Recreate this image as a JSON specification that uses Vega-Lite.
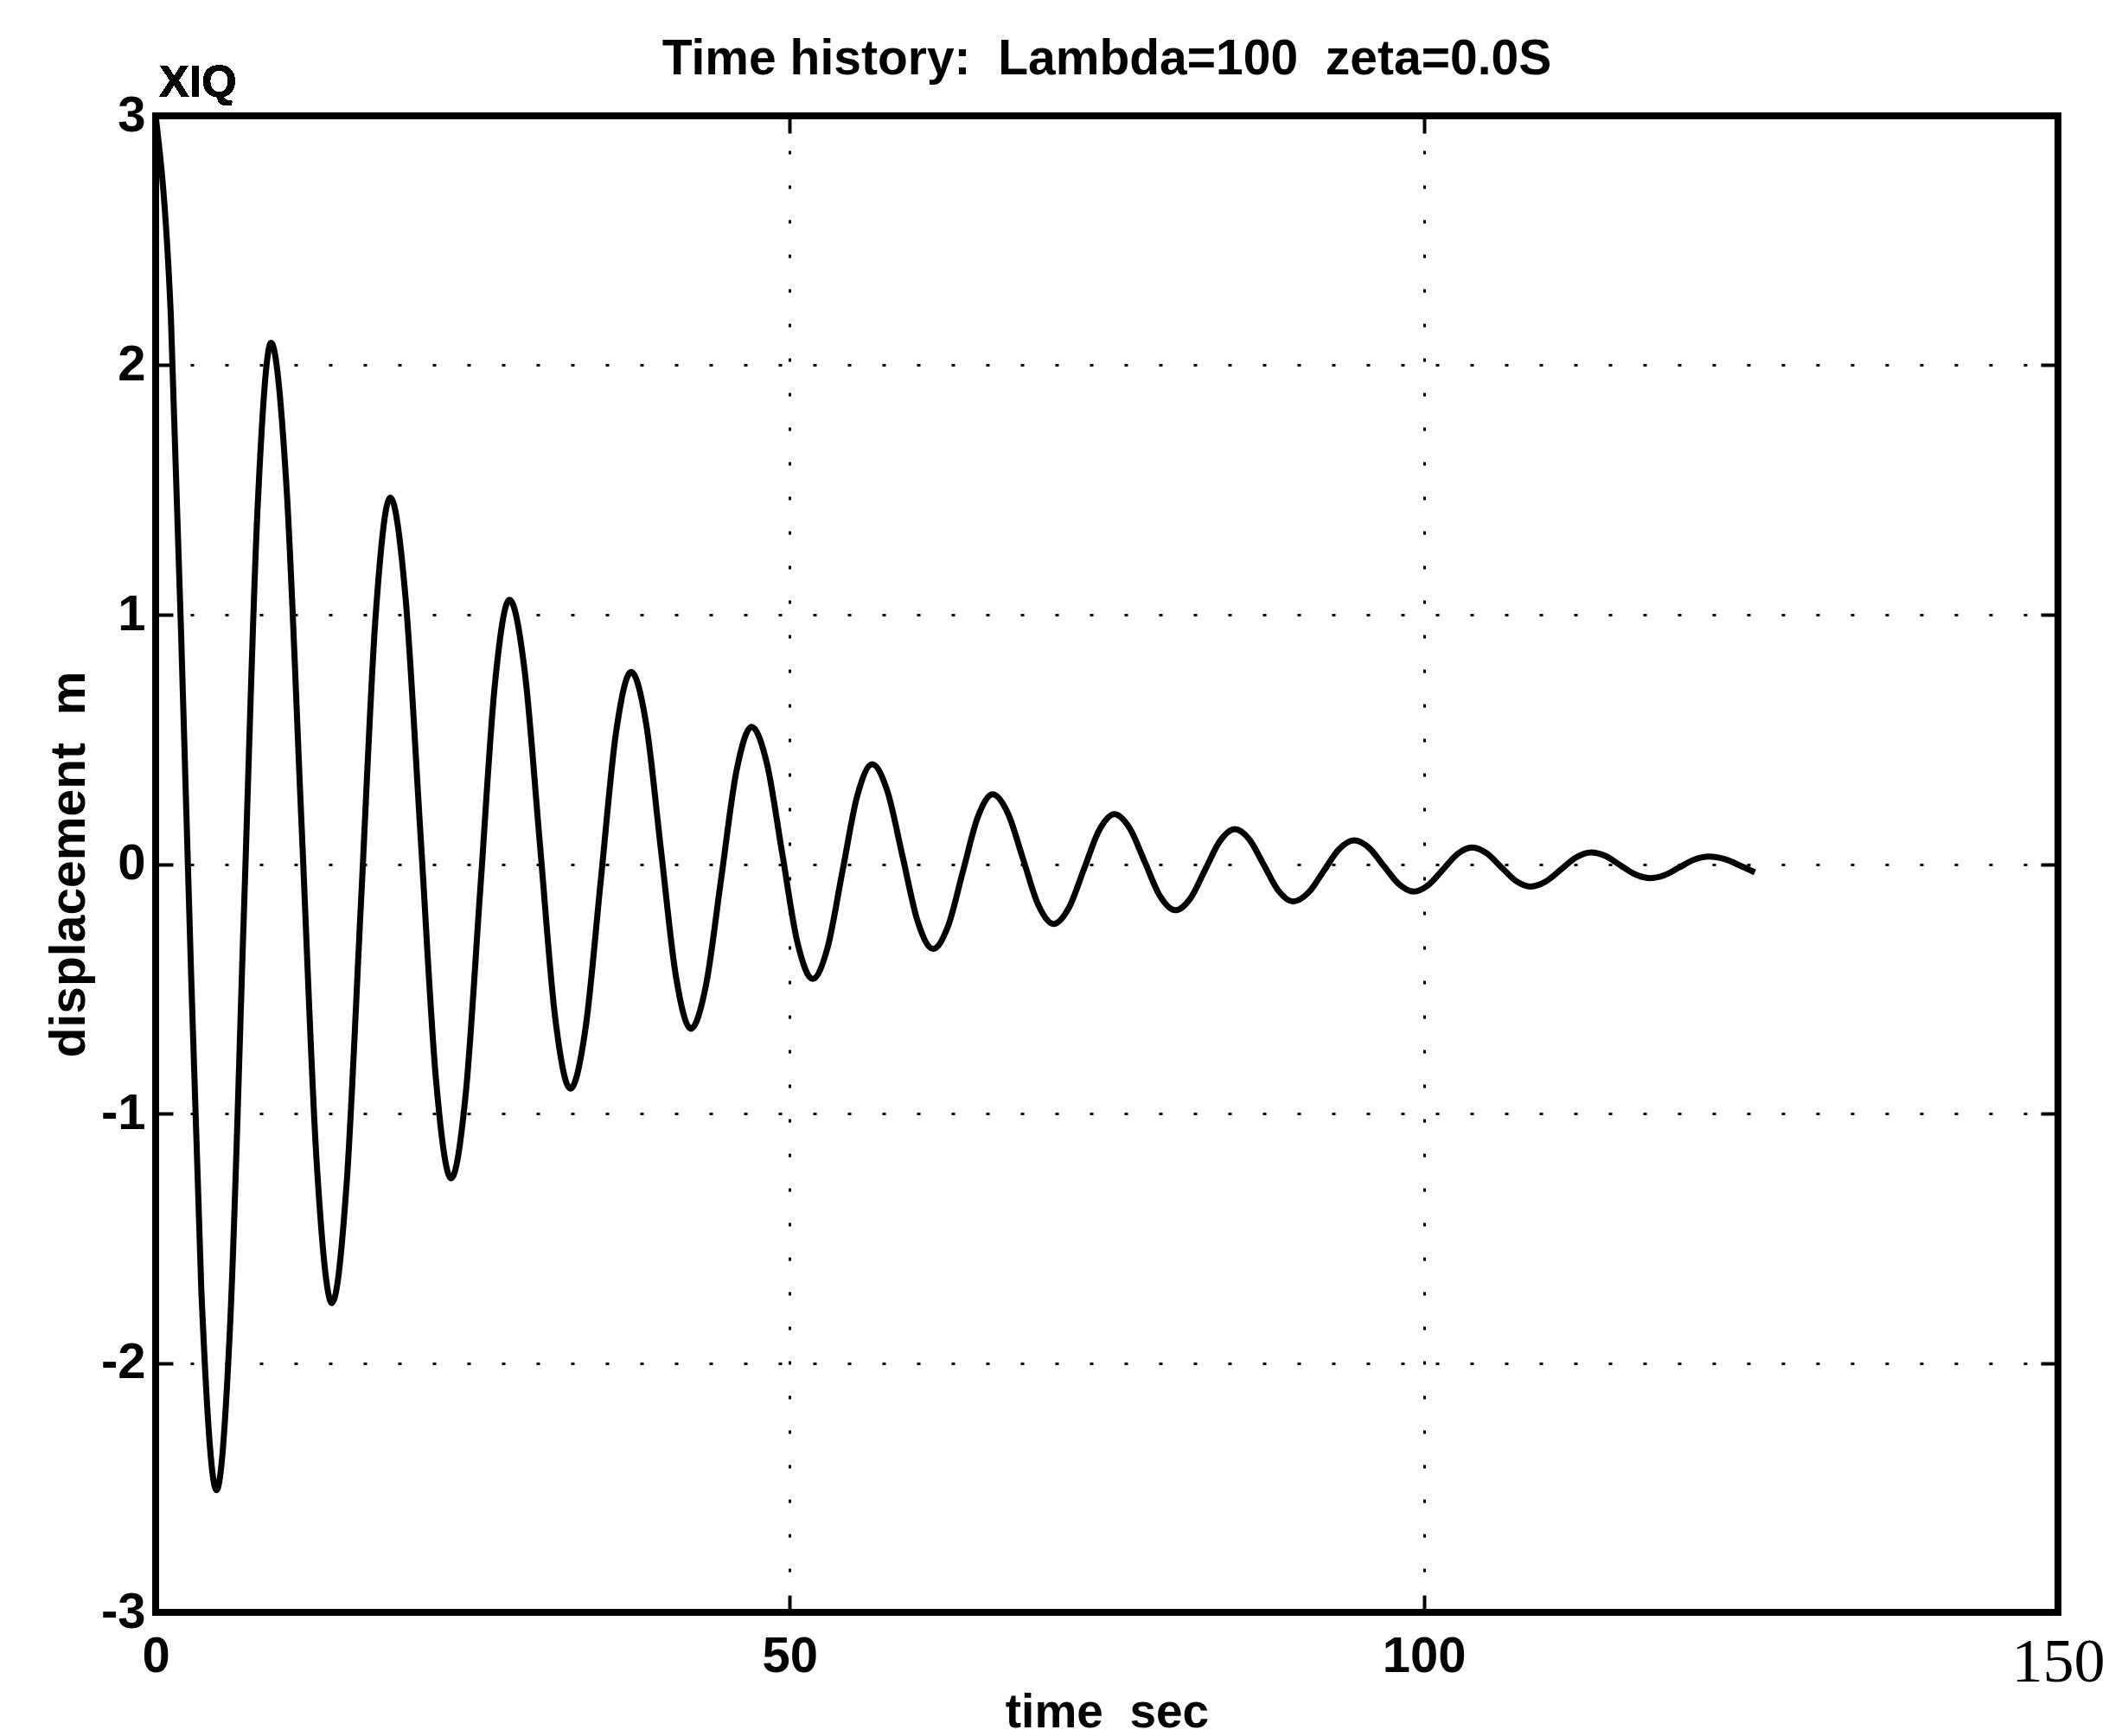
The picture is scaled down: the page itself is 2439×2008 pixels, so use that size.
{
  "$schema": "https://vega.github.io/schema/vega-lite/v6.json",
  "autosize": "none",
  "width": 2200,
  "height": 1731,
  "padding": {"left": 180, "top": 134, "right": 59, "bottom": 143},
  "background": "white",
  "title": {
    "text": "Time history:\u00a0 Lambda=100\u00a0 zeta=0.0S",
    "font": "Liberation Sans",
    "fontSize": 57,
    "fontWeight": "bold",
    "color": "black",
    "anchor": "middle",
    "baseline": "alphabetic",
    "offset": -73
  },
  "config": {
    "view": {"stroke": "black", "strokeWidth": 8},
    "axis": {
      "labelFont": "Liberation Sans",
      "labelFontWeight": "bold",
      "labelColor": "black",
      "titleFont": "Liberation Sans",
      "titleFontWeight": "bold",
      "titleColor": "black",
      "domain": false,
      "tickColor": "black",
      "tickWidth": 4,
      "gridColor": "black",
      "gridWidth": 3,
      "gridDash": [4, 36],
      "gridOpacity": 1
    }
  },
  "data": {
    "values": [
      {"t": 0, "v": 3.0}, {"t": 1.2, "v": 2.196}, {"t": 2.4, "v": 0.245}, {"t": 3.6, "v": -1.706}, {"t": 4.8, "v": -2.51},
      {"t": 5.88, "v": -1.839}, {"t": 6.95, "v": -0.21}, {"t": 8.03, "v": 1.419}, {"t": 9.1, "v": 2.09},
      {"t": 10.3, "v": 1.528}, {"t": 11.5, "v": 0.165}, {"t": 12.7, "v": -1.198}, {"t": 13.9, "v": -1.76},
      {"t": 15.05, "v": -1.288}, {"t": 16.2, "v": -0.145}, {"t": 17.35, "v": 0.998}, {"t": 18.5, "v": 1.47},
      {"t": 19.7, "v": 1.071}, {"t": 20.9, "v": 0.105}, {"t": 22.1, "v": -0.861}, {"t": 23.3, "v": -1.26},
      {"t": 24.45, "v": -0.921}, {"t": 25.6, "v": -0.1}, {"t": 26.75, "v": 0.721}, {"t": 27.9, "v": 1.06},
      {"t": 29.1, "v": 0.774}, {"t": 30.3, "v": 0.08}, {"t": 31.5, "v": -0.614}, {"t": 32.7, "v": -0.9},
      {"t": 33.9, "v": -0.657}, {"t": 35.1, "v": -0.065}, {"t": 36.3, "v": 0.527}, {"t": 37.5, "v": 0.77},
      {"t": 38.68, "v": 0.562}, {"t": 39.85, "v": 0.055}, {"t": 41.03, "v": -0.452}, {"t": 42.2, "v": -0.66},
      {"t": 43.4, "v": -0.484}, {"t": 44.6, "v": -0.055}, {"t": 45.8, "v": 0.374}, {"t": 47.0, "v": 0.55},
      {"t": 48.2, "v": 0.403}, {"t": 49.4, "v": 0.045}, {"t": 50.6, "v": -0.313}, {"t": 51.8, "v": -0.46},
      {"t": 52.98, "v": -0.335}, {"t": 54.15, "v": -0.03}, {"t": 55.33, "v": 0.275}, {"t": 56.5, "v": 0.4},
      {"t": 57.7, "v": 0.292}, {"t": 58.9, "v": 0.03}, {"t": 60.1, "v": -0.232}, {"t": 61.3, "v": -0.34},
      {"t": 62.48, "v": -0.249}, {"t": 63.65, "v": -0.03}, {"t": 64.83, "v": 0.189}, {"t": 66.0, "v": 0.28},
      {"t": 67.2, "v": 0.204}, {"t": 68.4, "v": 0.02}, {"t": 69.6, "v": -0.164}, {"t": 70.8, "v": -0.24},
      {"t": 72.0, "v": -0.176}, {"t": 73.2, "v": -0.02}, {"t": 74.4, "v": 0.136}, {"t": 75.6, "v": 0.2},
      {"t": 76.8, "v": 0.144}, {"t": 78.0, "v": 0.008}, {"t": 79.2, "v": -0.129}, {"t": 80.4, "v": -0.185},
      {"t": 81.58, "v": -0.138}, {"t": 82.75, "v": -0.023}, {"t": 83.93, "v": 0.093}, {"t": 85.1, "v": 0.14},
      {"t": 86.25, "v": 0.098}, {"t": 87.4, "v": -0.005}, {"t": 88.55, "v": -0.108}, {"t": 89.7, "v": -0.15},
      {"t": 90.9, "v": -0.114}, {"t": 92.1, "v": -0.028}, {"t": 93.3, "v": 0.059}, {"t": 94.5, "v": 0.095},
      {"t": 95.68, "v": 0.065}, {"t": 96.85, "v": -0.008}, {"t": 98.03, "v": -0.08}, {"t": 99.2, "v": -0.11},
      {"t": 100.35, "v": -0.084}, {"t": 101.5, "v": -0.022}, {"t": 102.65, "v": 0.041}, {"t": 103.8, "v": 0.067},
      {"t": 104.95, "v": 0.044}, {"t": 106.1, "v": -0.012}, {"t": 107.25, "v": -0.067}, {"t": 108.4, "v": -0.09},
      {"t": 109.6, "v": -0.07}, {"t": 110.8, "v": -0.022}, {"t": 112.0, "v": 0.027}, {"t": 113.2, "v": 0.047},
      {"t": 114.35, "v": 0.032}, {"t": 115.5, "v": -0.005}, {"t": 116.65, "v": -0.041}, {"t": 117.8, "v": -0.056},
      {"t": 118.98, "v": -0.044}, {"t": 120.15, "v": -0.013}, {"t": 121.33, "v": 0.018}, {"t": 122.5, "v": 0.03},
      {"t": 123.7, "v": 0.02}, {"t": 124.9, "v": -0.005}, {"t": 126.1, "v": -0.033}
    ]
  },
  "resolve": {"axis": {"x": "independent", "y": "independent"}},
  "layer": [
    {
      "mark": {"type": "line", "color": "black", "strokeWidth": 7, "interpolate": "monotone", "clip": true},
      "encoding": {
        "x": {
          "field": "t", "type": "quantitative",
          "scale": {"domain": [0, 150], "nice": false, "zero": false},
          "axis": {
            "orient": "bottom",
            "values": [0, 50, 100, 150],
            "grid": true,
            "tickSize": -20,
            "labelPadding": 42,
            "labelFlush": false,
            "labelFontSize": {"condition": {"test": "datum.value == 150", "value": 72}, "value": 58},
            "labelFont": {"condition": {"test": "datum.value == 150", "value": "Liberation Serif"}, "value": "Liberation Sans"},
            "labelFontWeight": {"condition": {"test": "datum.value == 150", "value": "normal"}, "value": "bold"},
            "title": "time\u00a0 sec",
            "titleFontSize": 55,
            "titlePadding": -4
          }
        },
        "y": {
          "field": "v", "type": "quantitative",
          "scale": {"domain": [-3, 3], "nice": false, "zero": false},
          "axis": {
            "orient": "left",
            "values": [-3, -2, -1, 0, 1, 2, 3],
            "labelExpr": "'' + datum.value",
            "grid": true,
            "tickSize": -20,
            "labelPadding": 32,
            "labelFlush": false,
            "labelFontSize": 58,
            "title": "displacement\u00a0 m",
            "titleFontSize": 57,
            "titlePadding": 7
          }
        }
      }
    },
    {
      "mark": {"type": "line", "strokeOpacity": 0},
      "encoding": {
        "x": {
          "field": "t", "type": "quantitative",
          "axis": {"orient": "top", "values": [50, 100], "grid": false, "labels": false, "tickSize": -20, "title": null}
        },
        "y": {
          "field": "v", "type": "quantitative",
          "axis": {"orient": "right", "values": [-2, -1, 0, 1, 2], "grid": false, "labels": false, "tickSize": -20, "title": null}
        }
      }
    },
    {
      "mark": {"type": "text", "text": "XIQ", "font": "Liberation Sans", "fontWeight": "bold", "fontSize": 52, "align": "left", "baseline": "alphabetic", "dx": 4, "dy": -22, "color": "black"},
      "encoding": {
        "x": {"datum": 0, "type": "quantitative", "axis": null},
        "y": {"datum": 3, "type": "quantitative", "axis": null}
      }
    }
  ]
}
